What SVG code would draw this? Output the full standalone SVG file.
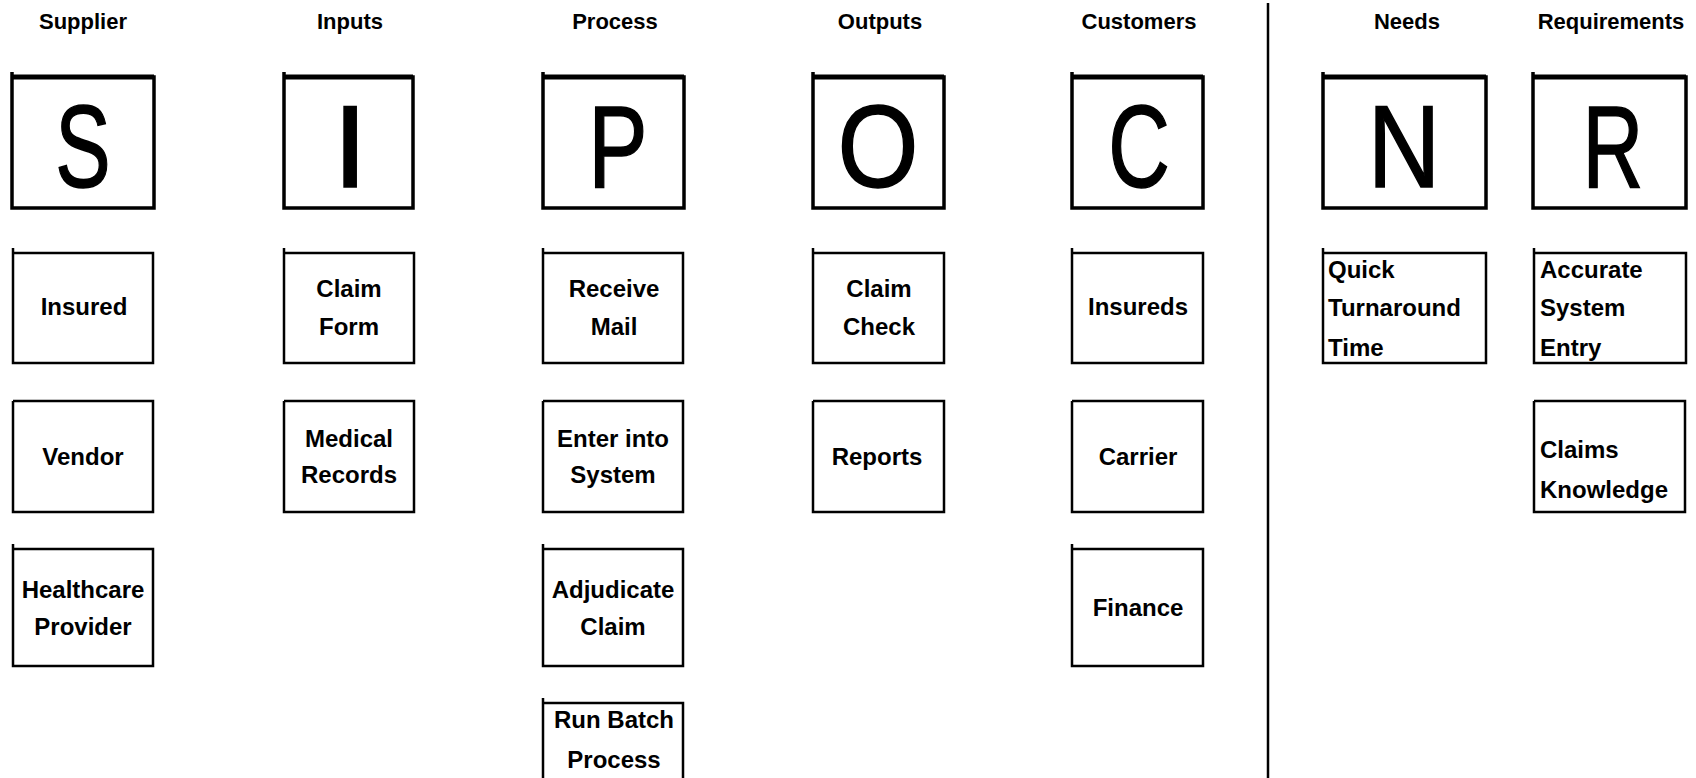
<svg xmlns="http://www.w3.org/2000/svg" width="1696" height="778" viewBox="0 0 1696 778">
  <style>
    .hdr { font-family: "Liberation Sans", Arial, sans-serif; font-weight: bold; font-size: 22px; fill: #000; text-anchor: middle; }
    .big { font-family: "Liberation Sans", Arial, sans-serif; font-size: 117px; fill: #000; stroke: #000; stroke-width: 1.5; text-anchor: middle; }
    .lbl { font-family: "Liberation Sans", Arial, sans-serif; font-weight: bold; font-size: 24px; fill: #000; text-anchor: middle; }
    .lbl-l { font-family: "Liberation Sans", Arial, sans-serif; font-weight: bold; font-size: 24px; fill: #000; text-anchor: start; }
    .box { fill: #fff; stroke: #000; stroke-width: 2.5; }
    .hbox { fill: #fff; stroke: #000; stroke-width: 3.5; }
    .htop { fill: none; stroke: #000; stroke-width: 5; }
    .rule { stroke: #000; stroke-width: 2.5; }
  </style>
  <rect width="1696" height="778" fill="#fff"/>

  <!-- column headings -->
  <g id="headings">
    <text class="hdr" x="83" y="29">Supplier</text>
    <text class="hdr" x="350" y="29">Inputs</text>
    <text class="hdr" x="615" y="29">Process</text>
    <text class="hdr" x="880" y="29">Outputs</text>
    <text class="hdr" x="1139" y="29">Customers</text>
    <text class="hdr" x="1407" y="29">Needs</text>
    <text class="hdr" x="1611" y="29">Requirements</text>
  </g>

  <!-- divider between SIPOC and needs/requirements -->
  <g id="divider">
    <line class="rule" x1="1268" y1="3" x2="1268" y2="778"/>
  </g>

  <!-- letter boxes -->
  <g id="letter-S">
    <path class="hbox" d="M12 72 V208 H154 V77 H12"/>
    <line class="htop" x1="12" y1="77" x2="154" y2="77"/>
    <text class="big" transform="translate(83,187) scale(0.71,1)">S</text>
  </g>
  <g id="letter-I">
    <path class="hbox" d="M284 72 V208 H413 V77 H284"/>
    <line class="htop" x1="284" y1="77" x2="413" y2="77"/>
    <text class="big" transform="translate(350,187) scale(1.1,1)">I</text>
  </g>
  <g id="letter-P">
    <path class="hbox" d="M543 72 V208 H684 V77 H543"/>
    <line class="htop" x1="543" y1="77" x2="684" y2="77"/>
    <text class="big" transform="translate(618,187) scale(0.76,1)">P</text>
  </g>
  <g id="letter-O">
    <path class="hbox" d="M813 72 V208 H944 V77 H813"/>
    <line class="htop" x1="813" y1="77" x2="944" y2="77"/>
    <text class="big" transform="translate(878,187) scale(0.89,1)">O</text>
  </g>
  <g id="letter-C">
    <path class="hbox" d="M1072 72 V208 H1203 V77 H1072"/>
    <line class="htop" x1="1072" y1="77" x2="1203" y2="77"/>
    <text class="big" transform="translate(1139,187) scale(0.73,1)">C</text>
  </g>
  <g id="letter-N">
    <path class="hbox" d="M1323 72 V208 H1486 V77 H1323"/>
    <line class="htop" x1="1323" y1="77" x2="1486" y2="77"/>
    <text class="big" transform="translate(1404,187) scale(0.86,1)">N</text>
  </g>
  <g id="letter-R">
    <path class="hbox" d="M1533 72 V208 H1686 V77 H1533"/>
    <line class="htop" x1="1533" y1="77" x2="1686" y2="77"/>
    <text class="big" transform="translate(1613,187) scale(0.72,1)">R</text>
  </g>

  <!-- Supplier column -->
  <g id="supplier-insured">
    <path class="box" d="M13 248 V363 H153 V253 H13"/>
    <text class="lbl" x="84" y="315">Insured</text>
  </g>
  <g id="supplier-vendor">
    <path class="box" d="M13 401 V512 H153 V401 H13"/>
    <text class="lbl" x="83" y="465">Vendor</text>
  </g>
  <g id="supplier-healthcare">
    <path class="box" d="M13 544 V666 H153 V549 H13"/>
    <text class="lbl" x="83" y="598">Healthcare</text>
    <text class="lbl" x="83" y="635">Provider</text>
  </g>

  <!-- Inputs column -->
  <g id="input-claim-form">
    <path class="box" d="M284 248 V363 H414 V253 H284"/>
    <text class="lbl" x="349" y="297">Claim</text>
    <text class="lbl" x="349" y="335">Form</text>
  </g>
  <g id="input-medical-records">
    <path class="box" d="M284 401 V512 H414 V401 H284"/>
    <text class="lbl" x="349" y="447">Medical</text>
    <text class="lbl" x="349" y="483">Records</text>
  </g>

  <!-- Process column -->
  <g id="process-receive-mail">
    <path class="box" d="M543 248 V363 H683 V253 H543"/>
    <text class="lbl" x="614" y="297">Receive</text>
    <text class="lbl" x="614" y="335">Mail</text>
  </g>
  <g id="process-enter-system">
    <path class="box" d="M543 401 V512 H683 V401 H543"/>
    <text class="lbl" x="613" y="447">Enter into</text>
    <text class="lbl" x="613" y="483">System</text>
  </g>
  <g id="process-adjudicate">
    <path class="box" d="M543 544 V666 H683 V549 H543"/>
    <text class="lbl" x="613" y="598">Adjudicate</text>
    <text class="lbl" x="613" y="635">Claim</text>
  </g>
  <g id="process-run-batch">
    <path class="box" d="M543 698 V790 H683 V703 H543"/>
    <text class="lbl" x="614" y="728">Run Batch</text>
    <text class="lbl" x="614" y="768">Process</text>
  </g>

  <!-- Outputs column -->
  <g id="output-claim-check">
    <path class="box" d="M813 248 V363 H944 V253 H813"/>
    <text class="lbl" x="879" y="297">Claim</text>
    <text class="lbl" x="879" y="335">Check</text>
  </g>
  <g id="output-reports">
    <path class="box" d="M813 401 V512 H944 V401 H813"/>
    <text class="lbl" x="877" y="465">Reports</text>
  </g>

  <!-- Customers column -->
  <g id="customer-insureds">
    <path class="box" d="M1072 248 V363 H1203 V253 H1072"/>
    <text class="lbl" x="1138" y="315">Insureds</text>
  </g>
  <g id="customer-carrier">
    <path class="box" d="M1072 401 V512 H1203 V401 H1072"/>
    <text class="lbl" x="1138" y="465">Carrier</text>
  </g>
  <g id="customer-finance">
    <path class="box" d="M1072 544 V666 H1203 V549 H1072"/>
    <text class="lbl" x="1138" y="616">Finance</text>
  </g>

  <!-- Needs column -->
  <g id="need-turnaround">
    <path class="box" d="M1323 248 V363 H1486 V253 H1323"/>
    <text class="lbl-l" x="1328" y="278">Quick</text>
    <text class="lbl-l" x="1328" y="316">Turnaround</text>
    <text class="lbl-l" x="1328" y="356">Time</text>
  </g>

  <!-- Requirements column -->
  <g id="req-accurate-entry">
    <path class="box" d="M1534 248 V363 H1686 V253 H1534"/>
    <text class="lbl-l" x="1540" y="278">Accurate</text>
    <text class="lbl-l" x="1540" y="316">System</text>
    <text class="lbl-l" x="1540" y="356">Entry</text>
  </g>
  <g id="req-claims-knowledge">
    <path class="box" d="M1534 401 V512 H1685 V401 H1534"/>
    <text class="lbl-l" x="1540" y="458">Claims</text>
    <text class="lbl-l" x="1540" y="498">Knowledge</text>
  </g>
</svg>
